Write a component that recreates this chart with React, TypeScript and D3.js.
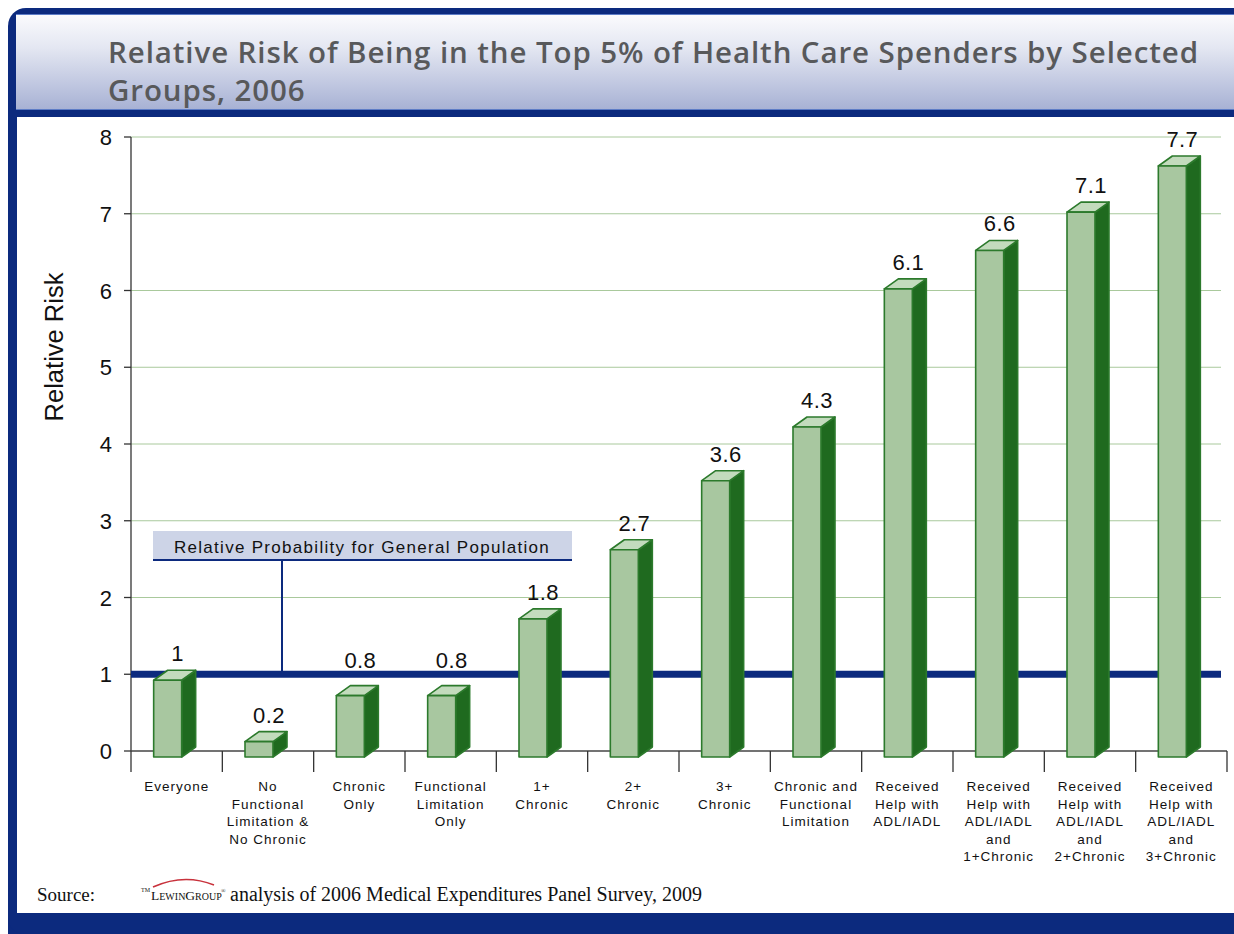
import React from "react";
import * as d3 from "d3";

// Groups shown along the category axis (one entry per line of the label)
const categories: string[][] = [
  ["Everyone"],
  ["No", "Functional", "Limitation &", "No Chronic"],
  ["Chronic", "Only"],
  ["Functional", "Limitation", "Only"],
  ["1+", "Chronic"],
  ["2+", "Chronic"],
  ["3+", "Chronic"],
  ["Chronic and", "Functional", "Limitation"],
  ["Received", "Help with", "ADL/IADL"],
  ["Received", "Help with", "ADL/IADL", "and", "1+Chronic"],
  ["Received", "Help with", "ADL/IADL", "and", "2+Chronic"],
  ["Received", "Help with", "ADL/IADL", "and", "3+Chronic"],
];

// Relative risk of being a top-5% spender
const relativeRisk: number[] = [1, 0.2, 0.8, 0.8, 1.8, 2.7, 3.6, 4.3, 6.1, 6.6, 7.1, 7.7];
const riskLabels: string[] = ["1", "0.2", "0.8", "0.8", "1.8", "2.7", "3.6", "4.3", "6.1", "6.6", "7.1", "7.7"];

const yTicks: number[] = [0, 1, 2, 3, 4, 5, 6, 7, 8];
const generalPopulation = 1;

const titleLines = [
  "Relative Risk of Being in the Top 5% of Health Care Spenders by Selected",
  "Groups, 2006",
];

const W = 1234;
const H = 934;
const NAVY = "#0c2a7e";

export default function App() {
  const plotLeft = 131;
  const plotRight = 1227;
  const gridRight = 1221;
  const y = d3.scaleLinear().domain([0, 8]).range([751, 137]);
  const x = d3
    .scaleBand<number>()
    .domain(categories.map((_, i) => i))
    .range([plotLeft, plotRight]);
  const bw = x.bandwidth();

  const FRONT = 28;
  const DX = 14;
  const DY = 10;
  const SHIFT = 6; // front face sits a few px below the back wall

  const boundaries = d3.range(categories.length + 1).map((i) => plotLeft + i * bw);
  const refY = y(generalPopulation);

  const labelFont = "'Liberation Sans', Arial, sans-serif";
  const serif = "'Liberation Serif', 'Times New Roman', serif";

  // keep value labels clear of the thick reference line
  const labelBaseline = (v: number) => {
    let b = y(v) + SHIFT - DY - 9;
    if (b > refY - 4 && b - 16 < refY + 4) b = refY - 6;
    return b;
  };

  return (
    <svg
      width={W}
      height={H}
      viewBox={`0 0 ${W} ${H}`}
      style={{ position: "absolute", left: 0, top: 0, display: "block" }}
    >
      <defs>
        <linearGradient id="titleGrad" x1="0" y1="0" x2="0" y2="1">
          <stop offset="0%" stopColor="#fbfbfd" />
          <stop offset="35%" stopColor="#e4e7f2" />
          <stop offset="100%" stopColor="#a7b1d4" />
        </linearGradient>
        <clipPath id="page">
          <rect x={0} y={0} width={W} height={H} />
        </clipPath>
      </defs>

      <g clipPath="url(#page)">
        <rect x={0} y={0} width={W} height={H} fill="#ffffff" />
        {/* frame */}
        <rect x={8} y={8} width={W + 60} height={H + 60} rx={18} fill={NAVY} />
        <rect x={8} y={880} width={W + 60} height={54} rx={16} fill={NAVY} />
        <rect x={16} y={14} width={W + 20} height={96} fill="url(#titleGrad)" />
        <line x1={16} x2={W} y1={14.5} y2={14.5} stroke="#5d7cc6" strokeWidth={1} />
        <line x1={16} x2={W} y1={109.5} y2={109.5} stroke="#5d7cc6" strokeWidth={1} />
        <rect x={17} y={117} width={W + 20} height={796} fill="#ffffff" />
      </g>

      {/* title */}
      {titleLines.map((t, i) => (
        <text
          key={i}
          x={108}
          y={63 + i * 38}
          fill="#58595b"
          fontFamily="'Open Sans', 'DejaVu Sans', sans-serif"
          fontWeight={600}
          fontSize={29.5}
          letterSpacing={0.9}
        >
          {t}
        </text>
      ))}

      {/* gridlines */}
      {yTicks.filter((t) => t > 0).map((t) => (
        <line key={t} x1={plotLeft} x2={gridRight} y1={y(t)} y2={y(t)} stroke="#a9c99c" strokeWidth={1} />
      ))}

      {/* value axis */}
      <line x1={plotLeft} x2={plotLeft} y1={y(8)} y2={751} stroke="#333" strokeWidth={1.3} />
      {yTicks.map((t) => (
        <g key={t}>
          <line x1={124} x2={plotLeft} y1={y(t)} y2={y(t)} stroke="#333" strokeWidth={1.3} />
          <text x={112} y={y(t) + 8} textAnchor="end" fontFamily={labelFont} fontSize={22} fill="#111">
            {t}
          </text>
        </g>
      ))}
      <text
        transform={`translate(63, 347) rotate(-90)`}
        textAnchor="middle"
        fontFamily={labelFont}
        fontSize={25.5}
        fill="#111"
      >
        Relative Risk
      </text>

      {/* category axis */}
      <line x1={plotLeft} x2={plotRight} y1={751} y2={751} stroke="#444" strokeWidth={1.3} />
      {boundaries.map((b, i) => (
        <line key={i} x1={b} x2={b} y1={751} y2={772} stroke="#333" strokeWidth={1.3} />
      ))}
      {categories.map((lines, i) => (
        <text key={i} textAnchor="middle" fontFamily={labelFont} fontSize={13.5} letterSpacing={1} fill="#111">
          {lines.map((ln, j) => (
            <tspan key={j} x={(x(i) as number) + bw / 2} y={791 + j * 17.6}>
              {ln}
            </tspan>
          ))}
        </text>
      ))}

      {/* general population reference */}
      <rect x={153} y={531} width={419} height={28} fill="#cdd4e7" />
      <line x1={153} x2={572} y1={560} y2={560} stroke={NAVY} strokeWidth={2.2} />
      <text x={362} y={553} textAnchor="middle" fontFamily={labelFont} fontSize={17} letterSpacing={1.3} fill="#111">
        Relative Probability for General Population
      </text>
      <line x1={282} x2={282} y1={560} y2={refY} stroke={NAVY} strokeWidth={2} />
      <line x1={plotLeft} x2={gridRight} y1={refY} y2={refY} stroke={NAVY} strokeWidth={7} />

      {/* bars */}
      {relativeRisk.map((v, i) => {
        const c = (x(i) as number) + bw / 2 - 2;
        const x0 = c - (FRONT + DX) / 2;
        const top = y(v) + SHIFT;
        const bottom = y(0) + SHIFT;
        const side = `M${x0 + FRONT},${top} L${x0 + FRONT + DX},${top - DY} L${x0 + FRONT + DX},${bottom - DY} L${x0 + FRONT},${bottom} Z`;
        const cap = `M${x0},${top} L${x0 + DX},${top - DY} L${x0 + FRONT + DX},${top - DY} L${x0 + FRONT},${top} Z`;
        return (
          <g key={i} stroke="#2c7a2c" strokeWidth={1.6} strokeLinejoin="round">
            <path d={side} fill="#1f6a1f" />
            <path d={cap} fill="#c3dbbd" />
            <rect x={x0} y={top} width={FRONT} height={bottom - top} fill="#a8c7a0" />
          </g>
        );
      })}
      {relativeRisk.map((v, i) => {
        const c = (x(i) as number) + bw / 2 - 2;
        return (
          <text
            key={i}
            x={c + 3}
            y={labelBaseline(v)}
            textAnchor="middle"
            fontFamily={labelFont}
            fontSize={22}
            letterSpacing={0.4}
            fill="#111"
          >
            {riskLabels[i]}
          </text>
        );
      })}

      {/* source */}
      <text x={37} y={901} fontFamily={serif} fontSize={19} fill="#111">
        Source:
      </text>
      <path d="M153,887 Q184,873 214,885" fill="none" stroke="#c8323c" strokeWidth={1.6} />
      <text x={141} y={892} fontFamily={serif} fontSize={6} fill="#111">
        TM
      </text>
      <text x={151} y={900} fontFamily={serif} fontSize={13.5} fill="#111">
        <tspan>L</tspan>
        <tspan fontSize={10}>EWIN</tspan>
        <tspan>G</tspan>
        <tspan fontSize={10}>ROUP</tspan>
      </text>
      <text x={221} y={893} fontFamily={serif} fontSize={6} fill="#111">
        ®
      </text>
      <text x={230} y={901} fontFamily={serif} fontSize={20} fill="#111">
        analysis of 2006 Medical Expenditures Panel Survey, 2009
      </text>
    </svg>
  );
}
